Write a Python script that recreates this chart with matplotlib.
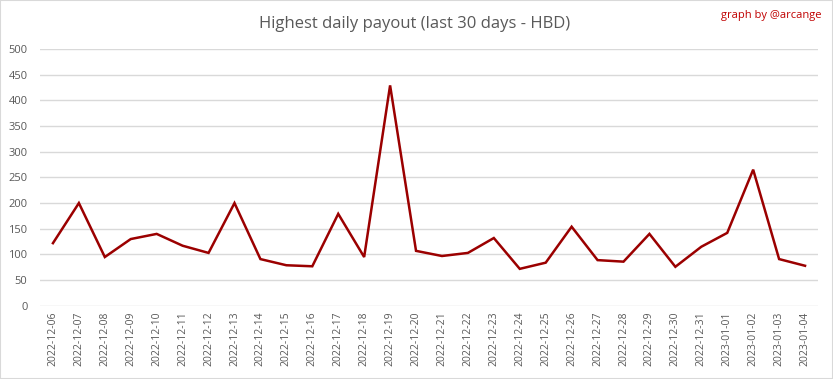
import matplotlib
matplotlib.use("Agg")
import matplotlib.pyplot as plt
from matplotlib.patches import Rectangle

dates = ["2022-12-06", "2022-12-07", "2022-12-08", "2022-12-09", "2022-12-10",
         "2022-12-11", "2022-12-12", "2022-12-13", "2022-12-14", "2022-12-15",
         "2022-12-16", "2022-12-17", "2022-12-18", "2022-12-19", "2022-12-20",
         "2022-12-21", "2022-12-22", "2022-12-23", "2022-12-24", "2022-12-25",
         "2022-12-26", "2022-12-27", "2022-12-28", "2022-12-29", "2022-12-30",
         "2022-12-31", "2023-01-01", "2023-01-02", "2023-01-03", "2023-01-04"]
payout = [122, 200, 95, 130, 140, 117, 103, 200, 91, 79,
          77, 179, 95, 429, 107, 97, 103, 132, 72, 84,
          154, 89, 86, 140, 76, 115, 142, 265, 91, 78]
y_ticks = list(range(0, 501, 50))

plt.rcParams["font.family"] = ["Open Sans", "DejaVu Sans"]

fig = plt.figure(figsize=(8.33, 3.79), dpi=100)
ax = fig.add_axes([0.048, 0.193, 0.934, 0.678])

x = list(range(len(dates)))
ax.plot(x, payout, color="#9b0000", lw=1.8, solid_joinstyle="miter")

ax.set_xlim(-0.5, len(dates) - 0.5)
ax.set_ylim(0, 500)
ax.set_yticks(y_ticks)
ax.set_xticks(x)
ax.set_xticklabels(dates, rotation=90, fontsize=7.5, color="#595959")
ax.tick_params(axis="y", labelsize=8, colors="#595959", length=0, pad=9)
ax.tick_params(axis="x", length=0, pad=4)
ax.grid(axis="y", color="#d9d9d9", lw=1)
ax.set_axisbelow(True)
for s in ax.spines.values():
    s.set_visible(False)

fig.text(0.498, 0.936, "Highest daily payout (last 30 days - HBD)",
         ha="center", va="center", fontsize=12, color="#595959")
fig.text(0.986, 0.958, "graph by @arcange", ha="right", va="center",
         fontsize=8, color="#c00000")

fig.patches.append(Rectangle((0, 0), 1, 1, transform=fig.transFigure,
                             fill=False, edgecolor="#d9d9d9", lw=1.5))

fig.savefig("out.png", dpi=100)
